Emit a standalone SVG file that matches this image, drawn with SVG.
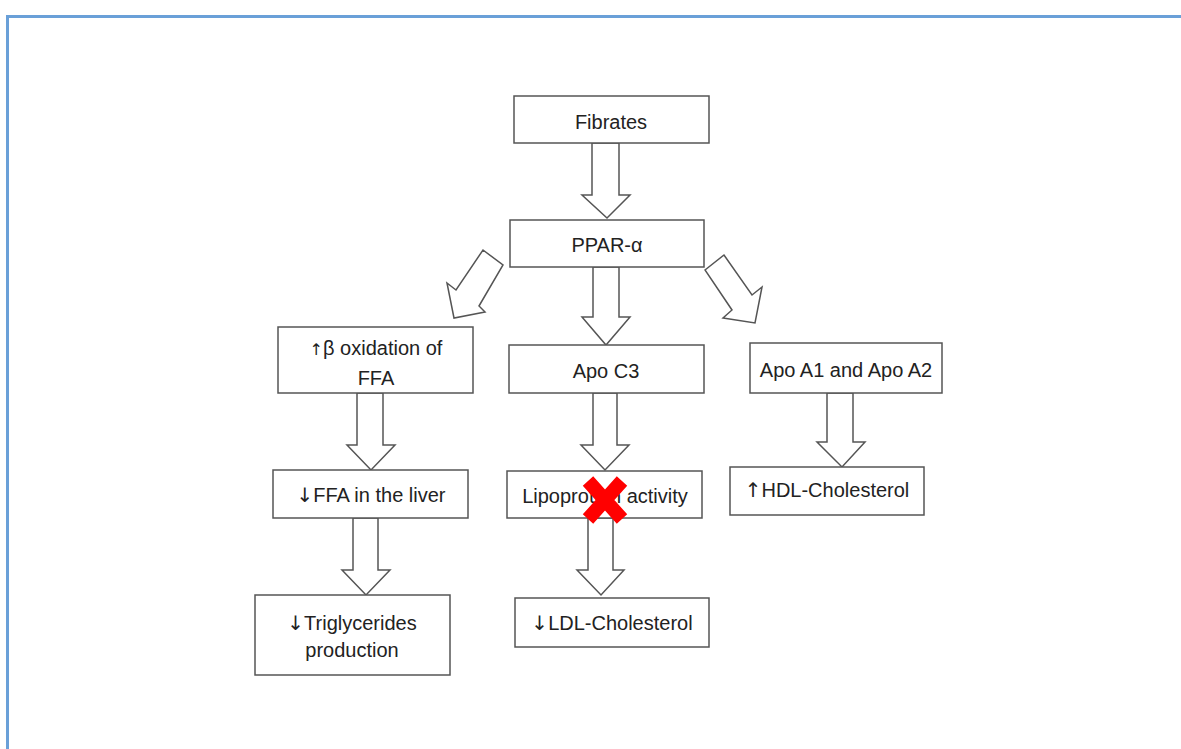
<svg xmlns="http://www.w3.org/2000/svg" width="1181" height="749" viewBox="0 0 1181 749">
<style>
.box{fill:#fff;stroke:#555;stroke-width:1.5}
.arr{fill:#fff;stroke:#555;stroke-width:1.5;stroke-linejoin:miter}
text{font-family:"Liberation Sans",Arial,sans-serif;font-size:20px;fill:#222;text-anchor:middle}
.sym{font-family:"DejaVu Sans",sans-serif;fill:#222}
</style>
<rect width="1181" height="749" fill="#fff"/>
<path d="M7.5 749 V16.5 H1181" fill="none" stroke="#6aa0d8" stroke-width="3"/>
<g id="connectors">
<polygon class="arr" points="592,143 619,143 619,195 630,195 607,218 582,195 592,195"/>
<polygon class="arr" points="593,267 619,267 619,317 630,317 606,345 582,317 593,317"/>
<polygon class="arr" points="483,250 503,265 479,306 485,312 454,318 447,283 456,290"/>
<polygon class="arr" points="705,270 724,255 752,295 762,287 755,323 723,318 732,310"/>
<polygon class="arr" points="357,393 383,393 383,445 395,445 371,470 347,445 357,445"/>
<polygon class="arr" points="593,393 617,393 617,445 629,445 605,470 581,445 593,445"/>
<polygon class="arr" points="827,393 853,393 853,442 865,442 842,467 817,442 827,442"/>
<polygon class="arr" points="353,518 378,518 378,570 390,570 366,595 342,570 353,570"/>
<polygon class="arr" points="588,518 613,518 613,570 624,570 601,595 577,570 588,570"/>
</g>
<g id="fibrates"><rect class="box" x="514" y="96" width="195" height="47"/><text x="611" y="129">Fibrates</text></g>
<g id="ppar"><rect class="box" x="510" y="220" width="194" height="47"/><text x="607" y="252">PPAR-α</text></g>
<g id="beta"><rect class="box" x="278" y="327" width="195" height="66"/><text x="376" y="355" font-size="22"><tspan class="sym" font-size="16">↑</tspan>β oxidation of</text><text x="376" y="385" font-size="22">FFA</text></g>
<g id="apoc3"><rect class="box" x="509" y="345" width="195" height="48"/><text x="606" y="378">Apo C3</text></g>
<g id="apoa"><rect class="box" x="750" y="343" width="192" height="50"/><text x="846" y="377">Apo A1 and Apo A2</text></g>
<g id="ffa"><rect class="box" x="273" y="470" width="195" height="48"/><text x="371" y="502"><tspan class="sym">↓</tspan>FFA in the liver</text></g>
<g id="lipo"><rect class="box" x="507" y="471" width="195" height="47"/><text x="605" y="503">Lipoprotein activity</text>
<path d="M588 481 L622 519 M622 481 L588 519" stroke="#ff0000" stroke-width="14" stroke-linecap="butt"/></g>
<g id="hdl"><rect class="box" x="730" y="467" width="194" height="48"/><text x="827" y="497"><tspan class="sym">↑</tspan>HDL-Cholesterol</text></g>
<g id="trig"><rect class="box" x="255" y="595" width="195" height="80"/><text x="352" y="630"><tspan class="sym">↓</tspan>Triglycerides</text><text x="352" y="657">production</text></g>
<g id="ldl"><rect class="box" x="515" y="598" width="194" height="49"/><text x="612" y="630"><tspan class="sym">↓</tspan>LDL-Cholesterol</text></g>
</svg>
